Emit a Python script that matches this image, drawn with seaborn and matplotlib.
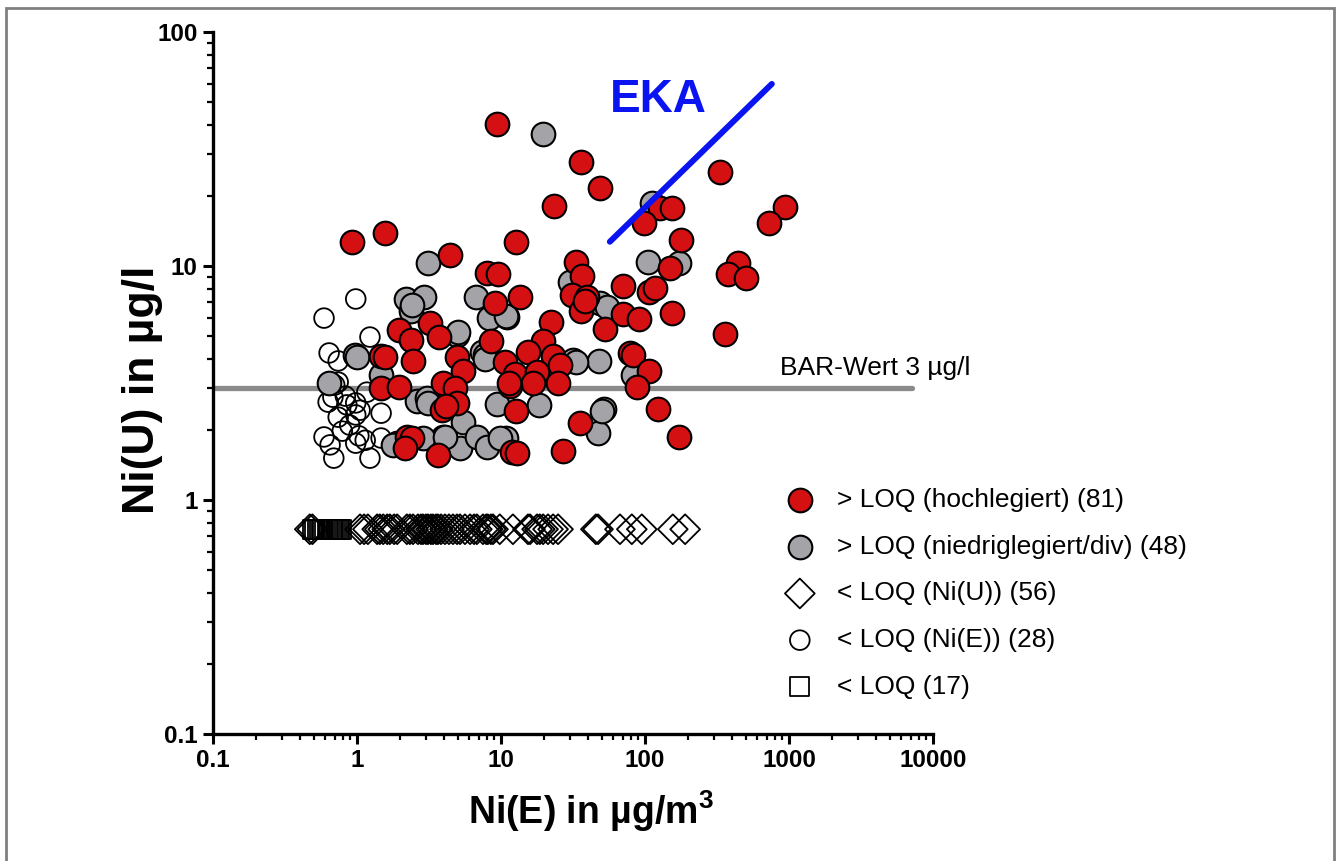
import numpy as np
import matplotlib
matplotlib.use("Agg")
import matplotlib.pyplot as plt
from matplotlib.patches import Rectangle
from matplotlib.ticker import LogLocator, NullFormatter, FixedLocator, FixedFormatter
import seaborn as sns

# > LOQ, hochlegiert (81)
red_x = [9.4, 35.9, 48.7, 23.3, 0.92, 1.56, 12.7, 4.42, 8.0, 9.53, 33.2, 36.5, 13.5, 9.08, 31.1,
         39.5, 35.9, 3.21, 1.96, 2.37, 3.71, 2.45, 1.47, 1.56, 4.95, 8.53, 22.2, 19.6, 15.4, 23.0,
         25.7, 5.45, 10.7, 12.5, 17.8, 16.7, 24.9, 1.47, 1.96, 3.95, 4.79, 11.5, 4.95, 3.89, 12.7,
         35.4, 2.22, 2.41, 2.15, 3.65, 11.9, 12.9, 27.0, 52.7, 332, 938, 726, 127, 154, 98.4,
         178, 149, 443, 377, 503, 70.3, 107, 117, 154, 70.3, 90.8, 359, 78.7, 82.6, 107,
         88, 123, 172, 4.15, 11.4, 38.5]
red_y = [40.4, 27.8, 21.5, 18.0, 12.7, 13.8, 12.7, 11.2, 9.33, 9.25, 10.4, 9.06, 7.37, 6.95, 7.52,
         7.37, 6.42, 5.71, 5.33, 4.83, 4.97, 3.93, 4.12, 4.08, 4.08, 4.78, 5.77, 4.78, 4.29, 4.12,
         3.78, 3.56, 3.89, 3.45, 3.52, 3.16, 3.16, 3.01, 3.04, 3.16, 3.01, 3.07, 2.60, 2.42, 2.40,
         2.13, 1.86, 1.84, 1.67, 1.56, 1.60, 1.59, 1.62, 5.38, 25.2, 17.9, 15.3, 17.7, 17.7, 15.3,
         12.9, 9.8, 10.3, 9.25, 8.89, 8.22, 7.74, 8.05, 6.30, 6.23, 5.94, 5.12, 4.25, 4.17, 3.56,
         3.04, 2.45, 1.86, 2.52, 3.16, 7.1]

# > LOQ, niedriglegiert/div (48)
gray_x = [19.6, 112, 3.11, 105, 172, 30.1, 48.7, 54.4, 11.0, 2.19, 2.92, 2.37, 6.7, 8.26, 10.8,
          4.95, 7.38, 7.74, 0.97, 1.47, 31.6, 47.9, 82.6, 2.61, 3.06, 5.45, 3.95, 1.90, 2.87, 5.19,
          6.8, 9.38, 18.4, 51.9, 47.2, 8.0, 10.8, 0.64, 1.0, 2.41, 7.74, 4.08, 5.0, 9.8, 1.78,
          33.0, 50.0, 3.11]
gray_y = [36.6, 18.6, 10.3, 10.4, 10.3, 8.54, 6.95, 6.68, 6.05, 7.23, 7.37, 6.42, 7.37, 5.99, 6.11,
          5.07, 4.29, 4.17, 4.17, 3.42, 3.97, 3.93, 3.42, 2.65, 2.73, 2.15, 1.86, 1.75, 1.84, 1.67,
          1.86, 2.57, 2.55, 2.45, 1.93, 1.68, 1.84, 3.16, 4.08, 6.8, 4.0, 1.86, 5.2, 1.84, 1.72,
          3.9, 2.4, 2.6]

# < LOQ Ni(E) (28)
ne_x = [0.98, 0.59, 1.23, 0.64, 0.74, 0.64, 0.74, 1.17, 0.63, 0.68, 0.85, 0.98, 0.74, 0.98,
        1.47, 0.59, 0.79, 1.03, 0.98, 1.47, 0.69, 1.23, 0.70, 0.83, 1.05, 0.89, 1.14, 0.65]
ne_y = [7.23, 5.99, 4.97, 4.25, 3.93, 3.19, 3.19, 2.89, 2.62, 2.75, 2.55, 2.60, 2.26, 2.31,
        2.35, 1.86, 1.97, 1.88, 1.75, 1.84, 1.51, 1.51, 3.10, 2.78, 2.42, 2.09, 1.80, 1.72]

# < LOQ Ni(U) (56), plotted at LOQ/2
loq_u = 0.75
nu_x = [0.47, 0.49, 1.05, 1.12, 1.19, 1.38, 1.44, 1.52, 1.62, 1.69, 1.81, 1.90, 2.22, 2.33,
        2.45, 2.65, 2.78, 2.87, 3.01, 3.11, 3.26, 3.37, 3.54, 3.65, 3.83, 4.08, 4.35, 4.64,
        4.95, 5.19, 5.62, 6.1, 6.5, 6.8, 7.5, 7.9, 8.1, 8.5, 8.8, 9.8, 12.1, 15.4, 15.9, 17.8,
        18.6, 19.6, 21.2, 23.0, 24.9, 45.6, 47.2, 67, 81, 95, 156, 190]

# < LOQ both (17)
both_x = [0.49, 0.51, 0.53, 0.55, 0.57, 0.58, 0.60, 0.62, 0.63, 0.65, 0.67, 0.68, 0.70, 0.72,
          0.74, 0.76, 0.78]

labels = ["> LOQ (hochlegiert) (81)", "> LOQ (niedriglegiert/div) (48)",
          "< LOQ (Ni(U)) (56)", "< LOQ (Ni(E)) (28)", "< LOQ (17)"]

bar_x = [0.1, 7150]
bar_y = [3, 3]
eka_x = [57, 760]
eka_y = [12.7, 60]

sns.set_theme(style="ticks")
plt.rcParams['font.family'] = ['Liberation Sans', 'DejaVu Sans']
plt.rcParams['mathtext.fontset'] = 'custom'
plt.rcParams['mathtext.bf'] = 'Liberation Sans:bold'
plt.rcParams['mathtext.rm'] = 'Liberation Sans'
plt.rcParams['text.color'] = 'black'
plt.rcParams['axes.labelcolor'] = 'black'

fig = plt.figure(figsize=(13.38, 8.61), dpi=100)
ax = fig.add_axes([0.1592, 0.1475, 0.5381, 0.8153])
ax.set_xscale('log')
ax.set_yscale('log')

sns.lineplot(x=bar_x, y=bar_y, ax=ax, color='#8a8a8a', linewidth=3.8, zorder=1)

sns.scatterplot(x=both_x, y=[loq_u] * len(both_x), ax=ax, marker='s', s=190,
                facecolors='none', edgecolor='black', linewidth=1.3, label=labels[4], zorder=2)
sns.scatterplot(x=nu_x, y=[loq_u] * len(nu_x), ax=ax, marker='D', s=230,
                facecolors='none', edgecolor='black', linewidth=1.3, label=labels[2], zorder=2)
sns.scatterplot(x=ne_x, y=ne_y, ax=ax, marker='o', s=200,
                facecolors='none', edgecolor='black', linewidth=1.3, label=labels[3], zorder=2)
sns.scatterplot(x=gray_x, y=gray_y, ax=ax, marker='o', s=290, color='#a3a3a8',
                edgecolor='black', linewidth=1.5, label=labels[1], zorder=3)
sns.scatterplot(x=red_x, y=red_y, ax=ax, marker='o', s=290, color='#d41012',
                edgecolor='black', linewidth=1.5, label=labels[0], zorder=4)

sns.lineplot(x=eka_x, y=eka_y, ax=ax, color='#0a14f0', linewidth=4.3, zorder=5)

ax.text(123, 51, 'EKA', color='#0a14f0', fontsize=33, fontweight='bold',
        ha='center', va='center')
ax.text(866, 3.66, 'BAR-Wert 3 µg/l', fontsize=19, ha='left', va='center', color='black')

ax.set_xlim(0.1, 10000)
ax.set_ylim(0.1, 100)
sns.despine(ax=ax)
for s in ['left', 'bottom']:
    ax.spines[s].set_linewidth(2.4)
    ax.spines[s].set_color('black')

xt = [0.1, 1, 10, 100, 1000, 10000]
yt = [0.1, 1, 10, 100]
ax.xaxis.set_major_locator(FixedLocator(xt))
ax.xaxis.set_major_formatter(FixedFormatter(['0.1', '1', '10', '100', '1000', '10000']))
ax.yaxis.set_major_locator(FixedLocator(yt))
ax.yaxis.set_major_formatter(FixedFormatter(['0.1', '1', '10', '100']))
for axis in (ax.xaxis, ax.yaxis):
    axis.set_minor_locator(LogLocator(base=10, subs=np.arange(2, 10), numticks=100))
    axis.set_minor_formatter(NullFormatter())
ax.tick_params(which='major', direction='out', length=7, width=2.2, labelsize=17.5, pad=4,
               color='black', labelcolor='black')
ax.tick_params(which='minor', direction='out', length=4, width=1.6, color='black')
for lab in ax.get_xticklabels() + ax.get_yticklabels():
    lab.set_fontweight('bold')

ax.set_xlabel(r'Ni(E) in µg/m$^{\mathbf{3}}$', fontsize=27, fontweight='bold', color='black')
ax.xaxis.set_label_coords(0.525, -0.078)
ax.set_ylabel('Ni(U) in µg/l', fontsize=32, fontweight='bold', color='black')
ax.yaxis.set_label_coords(-0.07, 0.49)

handles, labs = ax.get_legend_handles_labels()
order = [labs.index(l) for l in labels]
leg = ax.legend([handles[i] for i in order], [labs[i] for i in order], loc='upper left',
                bbox_to_anchor=(784 / 1338, 1 - 488 / 861), bbox_transform=fig.transFigure,
                frameon=False, fontsize=19, handletextpad=0.8, labelspacing=0.86,
                borderaxespad=0, borderpad=0, handlelength=1.2)
for t in leg.get_texts():
    t.set_color('black')

fig.patches.append(Rectangle((6 / 1338, -0.02), 1328 / 1338, 1.02 - 8 / 861, fill=False,
                             edgecolor='#808080', linewidth=2, transform=fig.transFigure))

fig.savefig('out.png', dpi=100, facecolor='white')
